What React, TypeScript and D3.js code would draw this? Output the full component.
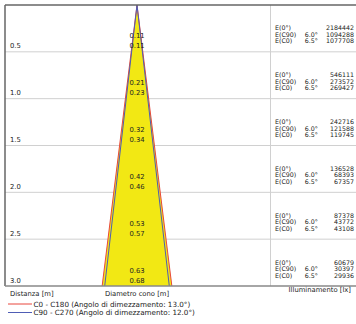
import React from "react";
import * as d3 from "d3";

const distances = [0.5, 1.0, 1.5, 2.0, 2.5, 3.0];
const distanceLabels = ["0.5", "1.0", "1.5", "2.0", "2.5", "3.0"];
const diamC90 = ["0.11", "0.21", "0.32", "0.42", "0.53", "0.63"];
const diamC0 = ["0.11", "0.23", "0.34", "0.46", "0.57", "0.68"];
const e0 = [2184442, 546111, 242716, 136528, 87378, 60679];
const eC90 = [1094288, 273572, 121588, 68393, 43772, 30397];
const eC0 = [1077708, 269427, 119745, 67357, 43108, 29936];
const angleC90 = "6.0°";
const angleC0 = "6.5°";
const legendItems = [
  { label: "C0 - C180 (Angolo di dimezzamento: 13.0°)", color: "#e8473c" },
  { label: "C90 - C270 (Angolo di dimezzamento: 12.0°)", color: "#4f5db5" },
];

const W = 356;
const H = 324;
const FONT = "DejaVu Sans, Verdana, sans-serif";

export default function App() {
  const y = d3.scaleLinear().domain([0, 3]).range([5, 286]);
  const x = d3.scaleLinear().domain([-0.5, 0.5]).range([137 - 51.25, 137 + 51.25]);
  const left = 5;
  const right = W;
  const divider = 270.5;
  const maxD = distances[distances.length - 1];
  const redHalf = +diamC0[diamC0.length - 1] / 2;
  const blueHalf = +diamC90[diamC90.length - 1] / 2;
  const area = d3
    .area<[number, number]>()
    .x0((d) => x(-d[1]))
    .x1((d) => x(d[1]))
    .y((d) => y(d[0]));
  const coneData: [number, number][] = [
    [0, 0],
    [maxD, redHalf],
  ];
  const line = d3
    .line<[number, number]>()
    .x((d) => x(d[0]))
    .y((d) => y(d[1]));
  const fs = 6.8;
  const fsR = 6.3;
  return (
    <svg
      width={W}
      height={H}
      style={{ position: "absolute", left: 0, top: 0, background: "#fff" }}
      fontFamily={FONT}
    >
      {distances.slice(0, -1).map((d, i) => (
        <line key={"g" + i} x1={left} x2={right} y1={y(d)} y2={y(d)} stroke="#d0d0d0" strokeWidth={1} />
      ))}
      <line x1={divider} x2={divider} y1={5} y2={286} stroke="#d0d0d0" strokeWidth={1} />
      <path d={area(coneData) || ""} fill="#f2e814" />
      <path
        d={line([[-redHalf, maxD], [0, 0], [redHalf, maxD]]) || ""}
        fill="none"
        stroke={legendItems[0].color}
        strokeWidth={1}
      />
      <path
        d={line([[-blueHalf, maxD], [0, 0], [blueHalf, maxD]]) || ""}
        fill="none"
        stroke={legendItems[1].color}
        strokeWidth={1}
      />
      <line x1={left} x2={right} y1={5} y2={5} stroke="#666" strokeWidth={1.5} />
      <line x1={left} x2={left} y1={5} y2={286} stroke="#666" strokeWidth={1.5} />
      <line x1={left} x2={right} y1={286} y2={286} stroke="#888" strokeWidth={1.5} />
      {distances.map((d, i) => (
        <g key={"r" + i} fill="#222">
          <g fontSize={fs}>
            <text x={10} y={y(d) - 3.5}>{distanceLabels[i]}</text>
            <text x={x(0)} y={y(d) - 13.5} textAnchor="middle">{diamC90[i]}</text>
            <text x={x(0)} y={y(d) - 3.5} textAnchor="middle">{diamC0[i]}</text>
          </g>
          <g fontSize={fsR}>
            <text x={275} y={y(d) - 21.5}>E(0°)</text>
            <text x={354} y={y(d) - 21.5} textAnchor="end">{e0[i]}</text>
            <text x={275} y={y(d) - 15}>E(C90)</text>
            <text x={318} y={y(d) - 15} textAnchor="end">{angleC90}</text>
            <text x={354} y={y(d) - 15} textAnchor="end">{eC90[i]}</text>
            <text x={275} y={y(d) - 8.5}>E(C0)</text>
            <text x={318} y={y(d) - 8.5} textAnchor="end">{angleC0}</text>
            <text x={354} y={y(d) - 8.5} textAnchor="end">{eC0[i]}</text>
          </g>
        </g>
      ))}
      <g fontSize={fs} fill="#222">
        <text x={10} y={296}>Distanza [m]</text>
        <text x={x(0)} y={296} textAnchor="middle">Diametro cono [m]</text>
        <text x={351} y={292} textAnchor="end">Illuminamento [lx]</text>
        {legendItems.map((it, i) => (
          <g key={"l" + i}>
            <line x1={8} x2={32} y1={304 + i * 8.5} y2={304 + i * 8.5} stroke={it.color} strokeWidth={1} />
            <text x={33.5} y={306.5 + i * 8.5} fontSize={7.2}>{it.label}</text>
          </g>
        ))}
      </g>
    </svg>
  );
}
